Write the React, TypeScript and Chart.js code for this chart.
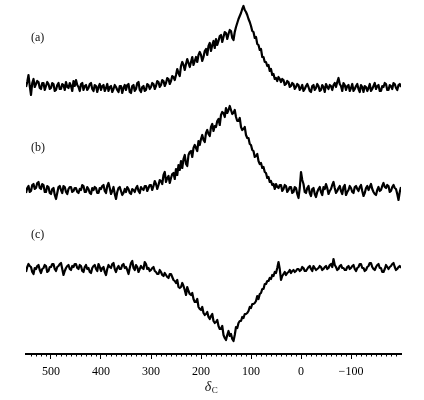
import React, { useEffect, useRef } from "react";
import { Chart, registerables } from "chart.js";

Chart.register(...registerables);

// chemical shift grid (ppm)
const shifts = [
  550, 547.5, 545, 542.5, 540, 537.5, 535, 532.5, 530, 527.5, 525, 522.5, 520, 517.5, 515, 512.5, 510, 507.5, 505, 502.5,
  500, 497.5, 495, 492.5, 490, 487.5, 485, 482.5, 480, 477.5, 475, 472.5, 470, 467.5, 465, 462.5, 460, 457.5, 455, 452.5,
  450, 447.5, 445, 442.5, 440, 437.5, 435, 432.5, 430, 427.5, 425, 422.5, 420, 417.5, 415, 412.5, 410, 407.5, 405, 402.5,
  400, 397.5, 395, 392.5, 390, 387.5, 385, 382.5, 380, 377.5, 375, 372.5, 370, 367.5, 365, 362.5, 360, 357.5, 355, 352.5,
  350, 347.5, 345, 342.5, 340, 337.5, 335, 332.5, 330, 327.5, 325, 322.5, 320, 317.5, 315, 312.5, 310, 307.5, 305, 302.5,
  300, 297.5, 295, 292.5, 290, 287.5, 285, 282.5, 280, 277.5, 275, 272.5, 270, 267.5, 265, 262.5, 260, 257.5, 255, 252.5,
  250, 247.5, 245, 242.5, 240, 237.5, 235, 232.5, 230, 227.5, 225, 222.5, 220, 217.5, 215, 212.5, 210, 207.5, 205, 202.5,
  200, 197.5, 195, 192.5, 190, 187.5, 185, 182.5, 180, 177.5, 175, 172.5, 170, 167.5, 165, 162.5, 160, 157.5, 155, 152.5,
  150, 147.5, 145, 142.5, 140, 137.5, 135, 132.5, 130, 127.5, 125, 122.5, 120, 117.5, 115, 112.5, 110, 107.5, 105, 102.5,
  100, 97.5, 95, 92.5, 90, 87.5, 85, 82.5, 80, 77.5, 75, 72.5, 70, 67.5, 65, 62.5, 60, 57.5, 55, 52.5,
  50, 47.5, 45, 42.5, 40, 37.5, 35, 32.5, 30, 27.5, 25, 22.5, 20, 17.5, 15, 12.5, 10, 7.5, 5, 2.5,
  0, -2.5, -5, -7.5, -10, -12.5, -15, -17.5, -20, -22.5, -25, -27.5, -30, -32.5, -35, -37.5, -40, -42.5, -45, -47.5,
  -50, -52.5, -55, -57.5, -60, -62.5, -65, -67.5, -70, -72.5, -75, -77.5, -80, -82.5, -85, -87.5, -90, -92.5, -95, -97.5,
  -100, -102.5, -105, -107.5, -110, -112.5, -115, -117.5, -120, -122.5, -125, -127.5, -130, -132.5, -135, -137.5, -140, -142.5, -145, -147.5,
  -150, -152.5, -155, -157.5, -160, -162.5, -165, -167.5, -170, -172.5, -175, -177.5, -180, -182.5, -185, -187.5, -190, -192.5, -195, -197.5,
  -200,
];

// spectrum (a), intensity above its baseline
const traceA = [
  1, 6, 13, 2, -7, 5, 9, 1, 4, 7, 6, 0, -1, 5, 5, -2, 2, 6, 4, -1,
  0, 5, 4, -3, -2, 3, 5, -1, -1, 4, 3, -2, 6, 1, 0, 5, 2, -3, 7, 2,
  8, 3, 1, -3, 4, 5, -2, 2, 3, -2, 0, 4, 5, -1, -3, 3, 2, -4, 1, 4,
  -2, 2, 3, -3, 0, 4, -3, 1, 2, -4, -1, 3, 1, -2, -4, 2, 2, -5, 0, 3,
  -2, 3, 4, -4, -5, 2, 3, -3, -1, 5, 6, -2, -4, 1, 2, -3, -2, 4, 3, -1,
  1, 5, 4, -1, 2, 7, 6, 1, 3, 8, 7, 2, 5, 10, 9, 4, 7, 12, 11, 8,
  13, 19, 15, 12, 22, 26, 23, 18, 24, 29, 25, 21, 26, 31, 23, 27, 31, 26, 33, 36,
  33, 27, 31, 37, 39, 33, 42, 45, 37, 43, 47, 40, 49, 43, 47, 52, 53, 46, 51, 56,
  55, 49, 54, 58, 57, 50, 48, 56, 61, 65, 69, 72, 75, 79, 82, 78, 76, 73, 69, 66,
  62, 57, 56, 50, 51, 44, 43, 38, 39, 31, 31, 26, 26, 22, 23, 17, 19, 13, 14, 9,
  10, 7, 11, 9, 6, 9, 8, 3, 4, 7, 6, 1, 2, 5, 4, -1, 1, 4, 3, -2,
  0, 3, -3, -1, 2, 4, 1, -3, -4, 2, 3, -2, 0, 4, 2, -3, -2, 3, 1, -4,
  4, 1, -1, 3, 2, -2, 3, 5, 1, 6, 10, 4, 2, -3, 5, 3, -2, 2, 3, -3,
  0, 4, -3, -1, 2, 4, -1, -4, 3, 1, -4, 2, 1, -3, 0, 4, -3, -1, 2, 5,
  -1, 2, 3, -3, -3, 2, 1, 5, 4, -2, -2, 3, 2, -1, 5, 4, 0, -2, 3, 4,
  1,
];

// spectrum (b)
const traceB = [
  -3, 2, 4, -2, -1, 5, 6, 1, 2, 7, 8, 2, 1, 6, 5, -2, -2, 4, 3, -3,
  -4, 1, 2, -5, -9, -3, 3, 4, 0, -3, 4, 3, -2, -4, 1, 3, 3, -2, -1, 2,
  2, -2, -3, 1, 0, 5, 4, -2, -2, 3, 1, -3, -4, 2, 0, 3, 2, -3, -3, 2,
  1, 4, 5, -1, -3, 4, 7, 2, -4, -1, 3, -4, -9, -2, 2, 3, -1, -5, -3, 1,
  -2, 3, 1, -3, -4, 1, 0, -2, 2, 4, -1, -3, 3, 1, 0, 4, 4, -1, 2, 5,
  5, 0, 4, 9, 6, 1, 5, 10, 9, 6, 15, 18, 8, 12, 14, 7, 12, 16, 17, 11,
  21, 15, 25, 20, 29, 22, 31, 35, 26, 24, 35, 38, 39, 33, 42, 45, 42, 39, 49, 45,
  51, 55, 50, 48, 57, 60, 56, 54, 63, 66, 59, 64, 63, 69, 71, 65, 75, 78, 77, 73,
  82, 77, 80, 84, 80, 76, 77, 80, 73, 69, 69, 72, 63, 60, 61, 63, 55, 52, 52, 46,
  45, 40, 39, 33, 34, 36, 29, 26, 27, 22, 23, 18, 17, 12, 13, 8, 9, 5, 6, 1,
  6, 3, 2, 5, 5, -1, 1, 5, 4, -2, 0, 3, 3, -3, -2, 3, 2, -4, -8, 2,
  18, 10, 6, -2, -3, 2, 4, -3, -6, 1, 2, -4, -7, -2, 1, 3, -2, -5, 3, 1,
  6, 2, -4, -1, 1, 5, 8, 2, -3, -1, 2, 4, -1, -4, 3, 5, -5, -2, 0, 4,
  2, -2, -3, 3, 4, 1, -1, 3, 5, -1, -6, -3, 2, 4, 0, 3, 6, 1, -2, -4,
  -5, 0, 3, -1, 0, 4, 7, 3, 2, 5, 4, -2, -1, 3, 5, 2, 1, -4, -10, -2,
  3,
];

// spectrum (c)
const traceC = [
  -2, 3, 6, 4, 3, -2, -4, 2, 1, 4, 5, 0, -3, 1, 2, 5, 4, -2, -1, 3,
  3, 6, 6, 1, -1, 3, 4, 6, 7, 1, -5, -1, 2, 4, 5, 1, 0, 4, 3, 6,
  6, 2, 1, 5, 4, -1, -2, 3, 5, 1, 2, -2, -3, 2, 4, 5, 1, -1, 6, 3,
  -1, 2, 3, -2, -5, 1, 5, 3, 2, 6, 7, 1, -2, 2, 4, 1, 1, 5, 6, 2,
  3, 0, -4, 2, 7, 9, 2, 0, 5, 3, -2, 1, 4, 2, 1, 8, 6, 1, 2, -1,
  0, 2, 3, -1, -2, -4, -4, 0, -2, -5, -6, -3, -5, -7, -8, -4, -4, -7, -10, -11,
  -13, -10, -17, -18, -17, -13, -16, -20, -25, -17, -21, -24, -25, -23, -29, -32, -32, -29, -37, -39,
  -40, -37, -43, -45, -44, -42, -47, -49, -46, -44, -51, -53, -52, -50, -56, -59, -59, -56, -65, -68,
  -70, -65, -61, -66, -64, -69, -71, -65, -57, -58, -53, -51, -51, -47, -48, -44, -44, -43, -41, -37,
  -38, -34, -34, -33, -31, -26, -29, -24, -23, -19, -19, -14, -14, -11, -11, -8, -9, -5, -6, -2,
  -3, 2, 8, 1, -10, -6, -4, -2, -5, -3, -2, 0, -3, -1, 0, -2, -1, 1, 1, -1,
  0, 3, 2, -1, -1, 1, 3, 4, 1, -1, 4, 2, 0, 1, 2, 4, 3, 0, 1, 3,
  4, 1, 2, 5, 6, 3, 11, 5, 3, 0, 1, 4, 5, 2, 2, 0, 0, 3, 4, 1,
  2, 4, 5, 1, -1, 2, 3, 6, 6, 2, 2, -1, 0, 3, 4, 7, 7, 3, 1, 0,
  3, 5, 6, 2, 2, -2, -2, 1, 5, 3, 1, 3, 4, 6, 7, 3, 0, 1, 3, 4,
  2,
];

const traces = [traceA, traceB, traceC];
const baselines = [266, 164, 84];
const panelLabels = ["(a)", "(b)", "(c)"];
const panelLabelLevels = [316, 206, 119];
const tickValues = [500, 400, 300, 200, 100, 0, -100];
const axisTitle = ["δ", "C"];

const SERIF = '"Liberation Serif", "DejaVu Serif", serif';

const decorations = {
  id: "decorations",
  afterDraw(chart: any) {
    const ctx = chart.ctx;
    const xs = chart.scales.x;
    const ys = chart.scales.y;
    ctx.save();
    // minor ticks
    ctx.strokeStyle = "#000";
    ctx.lineWidth = 1;
    for (let v = -190; v < 550; v += 10) {
      if (v % 100 === 0) continue;
      const px = Math.round(xs.getPixelForValue(v)) + 0.5;
      ctx.beginPath();
      ctx.moveTo(px, xs.top);
      ctx.lineTo(px, xs.top + 2.5);
      ctx.stroke();
    }
    // panel labels
    ctx.fillStyle = "#111";
    ctx.font = `12px ${SERIF}`;
    ctx.textBaseline = "middle";
    ctx.textAlign = "left";
    panelLabels.forEach((t, i) => {
      ctx.fillText(t, chart.chartArea.left + 5, ys.getPixelForValue(panelLabelLevels[i]));
    });
    // axis title
    ctx.textBaseline = "alphabetic";
    ctx.font = `italic 14px ${SERIF}`;
    const cx = xs.getPixelForValue(182);
    const w = ctx.measureText(axisTitle[0]).width;
    const y0 = xs.top + 37;
    ctx.fillText(axisTitle[0], cx - w / 2 - 2, y0);
    ctx.font = `9px ${SERIF}`;
    ctx.fillText(axisTitle[1], cx + w / 2 - 1.5, y0 + 2);
    ctx.restore();
  },
};

export default function App() {
  const ref = useRef<HTMLCanvasElement>(null);
  useEffect(() => {
    const canvas = ref.current;
    if (!canvas) return;
    const chart = new Chart(canvas, {
      type: "line",
      data: {
        datasets: traces.map((tr, k) => ({
          data: shifts.map((x, i) => ({ x, y: baselines[k] + tr[i] })),
          borderColor: "#000",
          borderWidth: 2.2,
          pointRadius: 0,
          tension: 0,
          fill: false,
          borderJoinStyle: "round" as const,
        })),
      },
      options: {
        animation: false,
        responsive: false,
        events: [],
        layout: { padding: { left: 26, right: 23, top: 0, bottom: 0 } },
        plugins: { legend: { display: false }, tooltip: { enabled: false } },
        scales: {
          x: {
            type: "linear",
            reverse: true,
            min: -200,
            max: 550,
            afterBuildTicks: (s: any) => {
              s.ticks = tickValues.map((v) => ({ value: v }));
            },
            afterFit: (s: any) => {
              s.height = 46;
            },
            border: { display: true, color: "#000", width: 2 },
            grid: {
              display: true,
              drawOnChartArea: false,
              drawTicks: true,
              tickLength: 5,
              color: "#000",
              lineWidth: 1,
            },
            ticks: {
              color: "#000",
              padding: 6,
              font: { family: SERIF, size: 12 },
              maxRotation: 0,
              autoSkip: false,
              callback: (v: any) => (Number(v) < 0 ? "\u2212" + Math.abs(Number(v)) : String(v)),
            },
          },
          y: {
            type: "linear",
            display: false,
            min: 0,
            max: 354,
          },
        },
      },
      plugins: [decorations],
    });
    return () => chart.destroy();
  }, []);
  return (
    <div style={{ position: "absolute", left: 0, top: 0, width: 424, height: 400, background: "#fff" }}>
      <canvas ref={ref} width={424} height={400} style={{ display: "block" }} />
    </div>
  );
}
